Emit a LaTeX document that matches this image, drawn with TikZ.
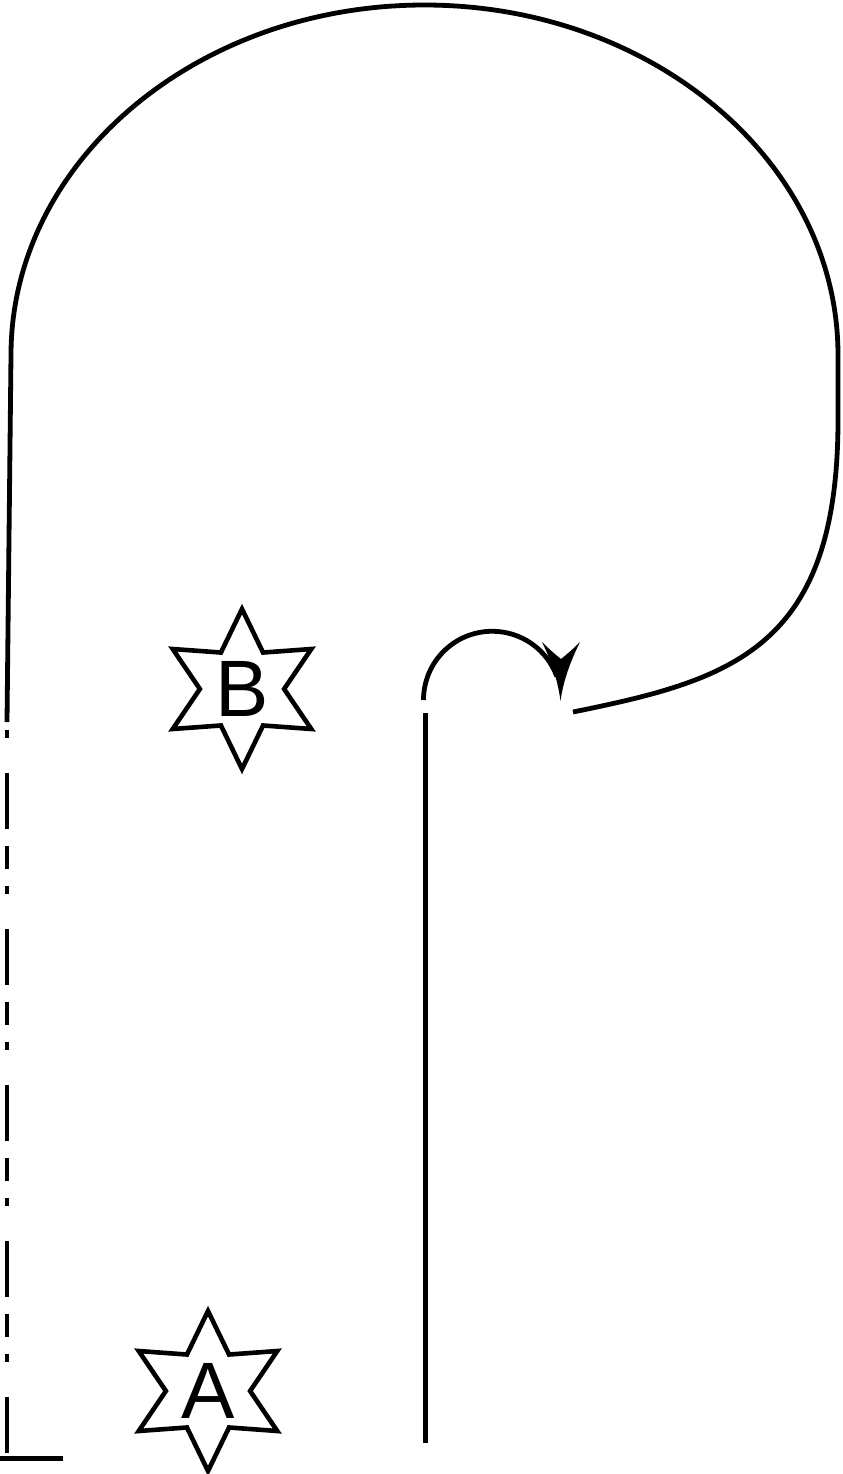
\documentclass[tikz,border=0pt]{standalone}
\usepackage{fontspec}
\setmainfont{Liberation Sans}
\usetikzlibrary{shapes.geometric}
\begin{document}
\begin{tikzpicture}[x=0.5pt,y=-0.5pt,
  line/.style={line width=2.4pt, draw=black},
  starnode/.style={star, star points=6, star point ratio=1.9, draw, line width=2.3pt,
    minimum size=80pt, inner sep=0pt, font=\fontsize{40}{40}\selectfont}]
\useasboundingbox (0,0) rectangle (842,1474);
% stars
\node[starnode] (B) at (242,689) {B};
\node[starnode] (A) at (208,1391) {A};
% coordinates
\coordinate (c0) at (573,712);
\coordinate (c1) at (838,420);
\coordinate (c2) at (838,355);
\coordinate (ctop) at (424.5,5);
\coordinate (c3) at (11,355);
\coordinate (c4) at (7,722);
\coordinate (d0) at (7,730);
\coordinate (d1) at (7,1456);
\coordinate (h0) at (0,1458.5);
\coordinate (h1) at (63,1458.5);
\coordinate (v0) at (425.5,713);
\coordinate (v1) at (425.5,1443);
\coordinate (a0) at (423.5,700);
% big loop
\draw[line] (c0) .. controls (730,680) and (838,650) .. (c1) -- (c2)
  .. controls (838,162) and (652.5,5) .. (ctop)
  .. controls (196,5) and (11,162) .. (c3) -- (c4);
% dashed left line
\draw[line, dash pattern=on 4pt off 17.5pt on 28pt off 8.5pt on 11.5pt off 8.5pt] (d0) -- (d1);
\draw[line] (h0) -- (h1);
% vertical line
\draw[line] (v0) -- (v1);
% small arc with arrow
\draw[line] (a0) arc[start angle=180, end angle=340, radius=68.75];
\fill (560.5,701) .. controls (558,682) and (552,662) .. (542,642)
  .. controls (550,650) and (556,655) .. (561,659)
  .. controls (566,655) and (572,650) .. (580,642)
  .. controls (570,662) and (563,682) .. cycle;
\end{tikzpicture}
\end{document}
